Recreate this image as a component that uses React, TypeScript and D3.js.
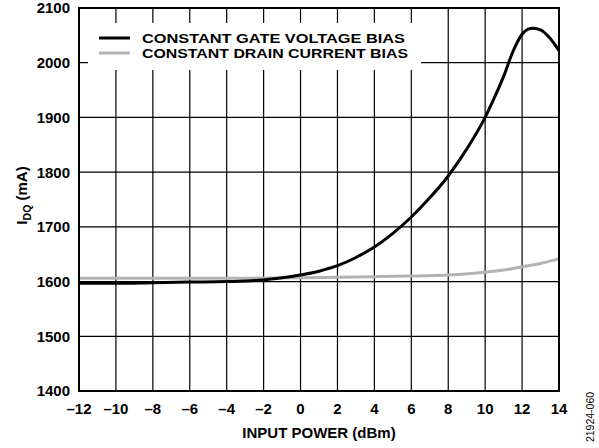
import * as d3 from "d3";

const xTicks = [-12, -10, -8, -6, -4, -2, 0, 2, 4, 6, 8, 10, 12, 14];
const yTicks = [1400, 1500, 1600, 1700, 1800, 1900, 2000, 2100];

const gatePower = [-12, -10, -8, -6, -4, -2, -1, 0, 1, 2, 3, 4, 5, 6, 7, 8, 9, 10, 10.5, 11, 11.5, 12, 12.3, 12.6, 13, 13.5, 14];
const gateIdq = [1597, 1597, 1598, 1599, 1600, 1603, 1607, 1612, 1619, 1629, 1644, 1663, 1688, 1718, 1753, 1793, 1842, 1900, 1936, 1975, 2020, 2052, 2061, 2063, 2060, 2045, 2022];

const drainPower = [-12, -8, -4, 0, 2, 4, 6, 8, 10, 11, 12, 13, 14];
const drainIdq = [1606, 1606, 1606, 1607, 1608, 1609, 1610, 1612, 1617, 1621, 1627, 1633, 1642];

const legendItems = ["CONSTANT GATE VOLTAGE BIAS", "CONSTANT DRAIN CURRENT BIAS"];
const legendColors = ["#000000", "#b3b3b3"];
const legendWidths = [263, 266];

const W = 599;
const H = 448;
const margin = { top: 8, right: 40, bottom: 57, left: 79 };
const innerW = W - margin.left - margin.right;
const innerH = H - margin.top - margin.bottom;

const App = () => {
  const x = d3.scaleLinear().domain([-12, 14]).range([0, innerW]);
  const y = d3.scaleLinear().domain([1400, 2100]).range([innerH, 0]);

  const line = d3
    .line<[number, number]>()
    .x((d) => x(d[0]))
    .y((d) => y(d[1]))
    .curve(d3.curveMonotoneX);

  const gatePath = line(gatePower.map((p, i) => [p, gateIdq[i]]));
  const drainPath = line(drainPower.map((p, i) => [p, drainIdq[i]]));

  const font = "'Liberation Sans', Arial, sans-serif";
  const legend = { x: 9, y: 15, w: 333, h: 47 };

  return (
    <svg
      width={W}
      height={H}
      style={{ position: "absolute", left: 0, top: 0, fontFamily: font, fontWeight: "bold" }}
    >
      <rect width={W} height={H} fill="#fff" />
      <g transform={`translate(${margin.left}, ${margin.top})`}>
        {xTicks.map((t) => (
          <line key={"gx" + t} x1={x(t)} x2={x(t)} y1={0} y2={innerH} stroke="#000" strokeWidth={1.2} />
        ))}
        {yTicks.map((t) => (
          <line key={"gy" + t} x1={0} x2={innerW} y1={y(t)} y2={y(t)} stroke="#000" strokeWidth={1.2} />
        ))}

        <rect x={legend.x} y={legend.y} width={legend.w} height={legend.h} fill="#fff" />

        <path d={drainPath ?? ""} fill="none" stroke="#b3b3b3" strokeWidth={3} />
        <path d={gatePath ?? ""} fill="none" stroke="#000" strokeWidth={3} />

        <rect x={0} y={0} width={innerW} height={innerH} fill="none" stroke="#000" strokeWidth={2} />

        {legendItems.map((label, i) => (
          <g key={label} transform={`translate(${legend.x + 11}, ${legend.y + 15 + i * 15})`}>
            <line x1={0} x2={31} y1={0} y2={0} stroke={legendColors[i]} strokeWidth={3} />
            <text
              x={43}
              y={0}
              dy="0.36em"
              fontSize={13}
              textLength={legendWidths[i]}
              lengthAdjust="spacingAndGlyphs"
            >
              {label}
            </text>
          </g>
        ))}

        {xTicks.map((t) => (
          <text key={"tx" + t} x={x(t)} y={innerH + 23} textAnchor="middle" fontSize={15}>
            {t < 0 ? "\u2013" + Math.abs(t) : t}
          </text>
        ))}
        {yTicks.map((t) => (
          <text key={"ty" + t} x={-9} y={y(t)} dy="0.36em" textAnchor="end" fontSize={15}>
            {t}
          </text>
        ))}

        <text x={innerW / 2} y={innerH + 47} textAnchor="middle" fontSize={15}>
          INPUT POWER (dBm)
        </text>
        <text
          transform={`translate(${-52}, ${innerH / 2 - 4}) rotate(-90)`}
          textAnchor="middle"
          fontSize={15}
        >
          I
          <tspan fontSize={10.5} dy={4}>DQ</tspan>
          <tspan dy={-4}> (mA)</tspan>
        </text>
      </g>
      <text
        transform={`translate(594, 417) rotate(-90)`}
        textAnchor="middle"
        fontSize={10.5}
        fontWeight="normal"
      >
        21924-060
      </text>
    </svg>
  );
};

export default App;
